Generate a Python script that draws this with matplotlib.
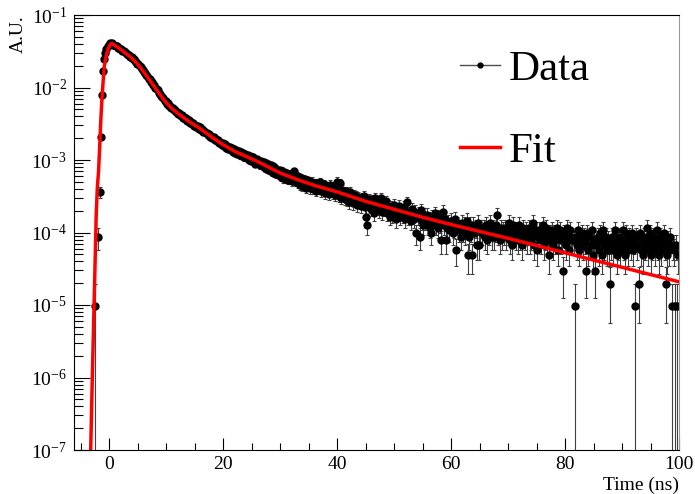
import numpy as np
import matplotlib
matplotlib.use('Agg')
import matplotlib.pyplot as plt
from matplotlib.lines import Line2D
from matplotlib.ticker import MultipleLocator, LogLocator, NullFormatter

plt.rcParams['font.family'] = ['Liberation Serif', 'DejaVu Serif']
plt.rcParams['mathtext.fontset'] = 'custom'
plt.rcParams['mathtext.rm'] = 'Liberation Serif'

#histogram : 0.2 ns bins, first bin centre at -2.5 ns
bin_first = -2.5
bin_width = 0.2
per_count = 9.7e-6      #A.U. for one count

counts = [
    1, 0, 0, 9, 37, 213, 807, 1731, 2554, 3120,                 # -2.5
    3540, 3880, 3990, 4170, 4160, 4190, 4010, 3990, 3830, 3810,  # -0.5
    3650, 3620, 3470, 3480, 3310, 3290, 3150, 3120, 3010, 2880,  # 1.5
    2850, 2710, 2690, 2560, 2510, 2370, 2330, 2200, 2160, 2020,  # 3.5
    1980, 1840, 1800, 1670, 1640, 1510, 1480, 1370, 1340, 1230,  # 5.5
    1210, 1110, 1100, 1000, 990, 940, 860, 850, 780, 770,        # 7.5
    740, 680, 675, 620, 625, 570, 580, 530, 540, 500,            # 9.5
    505, 470, 478, 440, 455, 420, 430, 395, 410, 380,            # 11.5
    390, 360, 362, 338, 348, 322, 330, 306, 318, 296,            # 13.5
    302, 280, 290, 268, 275, 250, 262, 240, 246, 228,            # 15.5
    234, 214, 222, 205, 212, 193, 203, 186, 195, 176,            # 17.5
    184, 168, 175, 160, 170, 151, 161, 146, 155, 140,            # 19.5
    150, 134, 146, 128, 141, 124, 136, 119, 133, 117,            # 21.5
    128, 112, 124, 109, 119, 104, 117, 101, 114, 112,            # 23.5
    92, 96, 108, 94, 101, 88, 99, 84, 97, 80,                    # 25.5
    93, 78, 90, 74, 88, 71, 84, 69, 81, 66,                      # 27.5
    76, 64, 75, 61, 73, 58, 70, 57, 69, 55,                      # 29.5
    66, 55, 64, 53, 68, 72, 52, 63, 49, 60,                      # 31.5
    47, 58, 45, 56, 51, 43, 55, 46, 53, 42,                      # 33.5
    52, 41, 50, 44, 39, 49, 43, 51, 38, 47,                      # 35.5
    40, 48, 36, 45, 42, 35, 47, 39, 44, 36,                      # 37.5
    43, 34, 52, 37, 33, 49, 31, 40, 36, 30,                      # 39.5
    38, 29, 35, 27, 37, 30, 26, 34, 29, 33,                      # 41.5
    25, 32, 28, 24, 31, 27, 33, 23, 17, 13,                      # 43.5
    30, 24, 22, 29, 26, 19, 31, 23, 27, 21,                      # 45.5
    26, 31, 20, 25, 22, 28, 19, 24, 21, 17,                      # 47.5
    23, 18, 25, 20, 16, 22, 19, 24, 17, 21,                      # 49.5
    18, 23, 16, 20, 27, 17, 19, 15, 22, 18,                      # 51.5
    16, 20, 10, 17, 19, 9, 21, 15, 13, 18,                       # 53.5
    15, 18, 13, 16, 12, 10, 17, 14, 19, 13,                      # 55.5
    15, 12, 17, 14, 8, 20, 13, 16, 8, 12,                        # 57.5
    14, 11, 15, 13, 10, 12, 16, 6, 13, 11,                       # 59.5
    12, 9, 14, 11, 13, 10, 15, 5, 9, 13,                         # 61.5
    11, 5, 13, 10, 12, 7, 14, 7, 11, 12,                         # 63.5
    10, 12, 9, 13, 8, 11, 10, 14, 9, 12,                         # 65.5
    9, 11, 13, 18, 10, 8, 12, 9, 11, 10,                         # 67.5
    12, 9, 10, 14, 8, 11, 7, 13, 10, 9,                          # 69.5
    11, 8, 13, 9, 10, 7, 12, 9, 11, 8,                           # 71.5
    10, 12, 8, 9, 14, 7, 10, 11, 6, 9,                           # 73.5
    11, 8, 10, 13, 7, 9, 12, 8, 5, 10,                           # 75.5
    9, 11, 7, 10, 8, 12, 6, 9, 11, 8,                            # 77.5
    9, 3, 10, 7, 12, 8, 6, 11, 9, 8,                             # 79.5
    8, 1, 9, 7, 11, 6, 8, 10, 7, 9,                              # 81.5
    8, 3, 10, 6, 9, 7, 11, 5, 8, 3,                              # 83.5
    7, 9, 6, 10, 8, 5, 11, 7, 9, 6,                              # 85.5
    8, 6, 2, 7, 9, 6, 11, 8, 5, 7,                               # 87.5
    9, 6, 8, 11, 7, 5, 10, 8, 6, 9,                              # 89.5
    7, 10, 6, 8, 1, 9, 7, 2, 10, 6,                              # 91.5
    8, 5, 9, 7, 12, 6, 8, 10, 5, 7,                              # 93.5
    9, 6, 8, 11, 7, 5, 9, 6, 8, 10,                              # 95.5
    7, 2, 5, 8, 6, 9, 1, 7, 6, 1,                                # 97.5
    7, 1, 5,                                                     # 99.5
]

#fit curve, log10(A.U.)
fit_t = [-3.3, -3.0, -2.7, -2.5, -2.3, -2.1, -1.9, -1.7, -1.5, -1.3, -1.1,
         -0.9, -0.7, -0.5, -0.3, -0.1, 0.1, 0.35, 0.7, 1.0, 2, 3, 4, 5, 6, 7,
         8, 9, 10, 11, 12, 14, 16, 18, 20, 22, 24, 26, 28, 30, 33, 36, 40,
         45, 50, 55, 60, 65, 70, 75, 80, 85, 90, 95, 100]
fit_log = [-7.1, -6.05, -5.07, -4.42, -3.75, -3.37, -3.17, -2.83, -2.46,
           -2.155, -1.93, -1.72, -1.62, -1.55, -1.495, -1.45, -1.415, -1.392,
           -1.405, -1.42, -1.475, -1.535, -1.60, -1.68, -1.78, -1.89, -2.00,
           -2.11, -2.21, -2.29, -2.355, -2.47, -2.57, -2.685, -2.79, -2.88,
           -2.95, -3.02, -3.10, -3.18, -3.27, -3.35, -3.44, -3.57, -3.68,
           -3.79, -3.89, -3.985, -4.08, -4.18, -4.28, -4.38, -4.48, -4.58,
           -4.68]

n = np.array(counts, dtype=float)
t = bin_first + bin_width*np.arange(len(n))
keep = n > 0
y = n[keep]*per_count
err = np.sqrt(n[keep])*per_count

fig = plt.figure(figsize=(6.95, 4.94), dpi=100)
ax = fig.add_axes([74/695, 44/494, 605/695, 435/494])

ax.errorbar(t[keep], y, yerr=err, fmt='o', color='k', ms=5, ecolor='0.25',
            elinewidth=0.8, capsize=1.6, capthick=0.8, zorder=2)
ax.plot(fit_t, 10**np.array(fit_log), color='red', lw=2.5, zorder=3)

ax.set_yscale('log')
ax.set_xlim(-6.2, 100)
ax.set_ylim(1e-7, 1e-1)

ax.xaxis.set_major_locator(MultipleLocator(20))
ax.xaxis.set_minor_locator(MultipleLocator(5))
ax.yaxis.set_major_locator(LogLocator(base=10, numticks=10))
ax.yaxis.set_minor_locator(LogLocator(base=10, subs=np.arange(2, 10), numticks=20))
ax.yaxis.set_minor_formatter(NullFormatter())

ax.tick_params(axis='x', which='major', direction='in', length=9, width=0.8, labelsize=14, pad=4)
ax.tick_params(axis='x', which='minor', direction='in', length=4.8, width=0.8)
ax.tick_params(axis='y', which='major', direction='in', length=11.5, width=0.8, labelsize=14, pad=5)
ax.tick_params(axis='y', which='minor', direction='in', length=6.3, width=0.8)

for s in ax.spines.values():
    s.set_linewidth(0.8)
ax.spines['right'].set_color('0.6')

ax.set_xlabel('Time (ns)', fontsize=14, loc='right')
ax.xaxis.set_label_coords(1.0, -0.062)
ax.set_ylabel('A.U.', fontsize=14, loc='top')
ax.yaxis.set_label_coords(-0.078, 1.0)

h_data = Line2D([], [], color='0.3', lw=1, marker='o', ms=3.5, mfc='k', mec='k')
h_fit = Line2D([], [], color='red', lw=2.5)
ax.legend([h_data, h_fit], ['Data', 'Fit'], loc='upper left',
          bbox_to_anchor=(0.638, 0.919), fontsize=31, frameon=False,
          handlelength=0.93, handletextpad=0.2, labelspacing=0.98,
          borderpad=0, borderaxespad=0, numpoints=1)

plt.savefig('out.png', dpi=100)
